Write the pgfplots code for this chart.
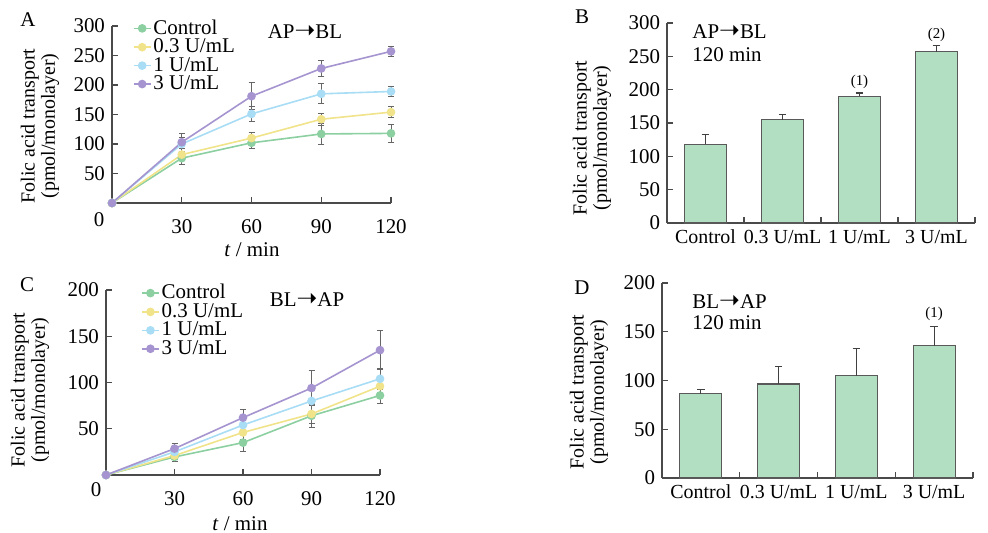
\documentclass[border=0pt]{standalone}
\usepackage{fontspec}
\setmainfont{Liberation Serif}
\newfontfamily\arrfont{DejaVu Sans}
\usepackage{pgfplots}
\pgfplotsset{compat=1.18}

\definecolor{cCtl}{HTML}{8CCFA0}
\definecolor{cLow}{HTML}{F0E38A}
\definecolor{cMid}{HTML}{A8DDF5}
\definecolor{cHigh}{HTML}{A594CF}
\definecolor{barfill}{HTML}{B2DEC2}
\definecolor{axgray}{HTML}{4A4A4A}

\newcommand{\fs}[1]{\fontsize{#1}{#1}\selectfont}
\newcommand{\arr}{{\arrfont\fontsize{12.5}{12}\selectfont ➝}}

\pgfplotsset{
  panel/.style={
    scale only axis, clip=false,
    axis x line*=bottom, axis y line*=left,
    axis line style={axgray, line width=0.6bp},
    tick style={axgray, line width=0.6bp},
    tick align=inside, major tick length=3bp,
    tick label style={font=\fs{10.5}},
    /pgf/number format/assume math mode=true,
  },
  linepanel/.style={
    panel, xmin=0, xmax=120, xtick={30,60,90,120}, ymin=0,
    xticklabel style={yshift=-5bp},
    legend cell align=left,
    legend style={draw=none, fill=none, anchor=north west, font=\fs{10.5},
      row sep=-1.2bp, nodes={inner sep=1bp}},
    legend image code/.code={\draw[##1, mark repeat=2, mark phase=2]
      plot coordinates {(0bp,0bp) (4.25bp,0bp) (8.5bp,0bp)};},
  },
  ser/.style={color=#1, mark=*, mark size=1.75bp, line width=0.8bp,
    mark options={fill=#1, draw=#1},
    error bars/.cd, y dir=both, y explicit,
    error bar style={black!60, line width=0.4bp},
    error mark options={rotate=90, black!60, mark size=1.5bp, line width=0.4bp}},
  barpanel/.style={
    panel, xmin=-0.5, xmax=3.5, xtick={0,1,2,3}, ymin=0,
    xticklabels={Control,0.3 U/mL,1 U/mL,3 U/mL},
    xticklabel style={font=\fs{10}},
    major x tick style={draw=none},
    minor xtick={0.5,1.5,2.5,3.5}, minor tick length=3bp,
  },
  bars/.style={ybar, bar width=21bp, fill=barfill, draw=black!65, line width=0.6bp,
    error bars/.cd, y dir=plus, y explicit,
    error bar style={black!75, line width=0.6bp},
    error mark options={rotate=90, black!75, mark size=1.9bp, line width=0.6bp}},
}

\begin{document}
\begin{tikzpicture}[x=0.5bp, y=-0.5bp]
\useasboundingbox (0,0) rectangle (988,533);
\coordinate (pA) at (112,203);
\coordinate (pB) at (667,223);
\coordinate (pC) at (106,475);
\coordinate (pD) at (662,478);

% ---- A: AP -> BL time course
\begin{axis}[linepanel, at={(pA)}, anchor=south west,
  width=139.5bp, height=88.5bp, ymax=300, ytick={50,100,...,300},
  legend style={at={(0.052,1.072)}}]
\addplot[ser=cCtl] coordinates {(0,0) +- (0,0) (30,76) +- (0,10) (60,102) +- (0,10) (90,117) +- (0,18) (120,118) +- (0,15)};
\addplot[ser=cLow] coordinates {(0,0) +- (0,0) (30,82) +- (0,10) (60,110) +- (0,10) (90,142) +- (0,10) (120,154) +- (0,9)};
\addplot[ser=cMid] coordinates {(0,0) +- (0,0) (30,100) +- (0,12) (60,151) +- (0,12) (90,185) +- (0,17) (120,189) +- (0,9)};
\addplot[ser=cHigh] coordinates {(0,0) +- (0,0) (30,103) +- (0,15) (60,181) +- (0,23) (90,228) +- (0,14) (120,257) +- (0,8)};
\legend{Control, 0.3 U/mL, 1 U/mL, 3 U/mL}
\end{axis}

% ---- B: AP -> BL at 120 min
\begin{axis}[barpanel, at={(pB)}, anchor=south west,
  width=154bp, height=100bp, ymax=300, ytick={0,50,...,300}]
\addplot[bars] coordinates {(0,118) +- (0,15) (1,155) +- (0,8) (2,190) +- (0,5) (3,257) +- (0,9)};
\node[font=\fs{7.5}, anchor=south, inner sep=0pt] at (axis cs:2,201) {(1)};
\node[font=\fs{7.5}, anchor=south, inner sep=0pt] at (axis cs:3,272) {(2)};
\end{axis}

% ---- C: BL -> AP time course
\begin{axis}[linepanel, at={(pC)}, anchor=south west,
  width=137bp, height=92.5bp, ymax=200, ytick={50,100,...,200},
  legend style={at={(0.105,1.065)}}]
\addplot[ser=cCtl] coordinates {(0,0) +- (0,0) (30,19.5) +- (0,5) (60,35) +- (0,10) (90,64) +- (0,13) (120,86) +- (0,9)};
\addplot[ser=cLow] coordinates {(0,0) +- (0,0) (30,21) +- (0,4) (60,46) +- (0,8) (90,66) +- (0,10) (120,96) +- (0,10)};
\addplot[ser=cMid] coordinates {(0,0) +- (0,0) (30,25) +- (0,5) (60,54) +- (0,10) (90,80) +- (0,12) (120,104) +- (0,11)};
\addplot[ser=cHigh] coordinates {(0,0) +- (0,0) (30,28.5) +- (0,6) (60,62) +- (0,9) (90,94) +- (0,19) (120,135) +- (0,21)};
\legend{Control, 0.3 U/mL, 1 U/mL, 3 U/mL}
\end{axis}

% ---- D: BL -> AP at 120 min
\begin{axis}[barpanel, at={(pD)}, anchor=south west,
  width=155.5bp, height=97.5bp, ymax=200, ytick={0,50,...,200}]
\addplot[bars] coordinates {(0,86.5) +- (0,4) (1,96.5) +- (0,18) (2,105) +- (0,28) (3,135.5) +- (0,20)};
\node[font=\fs{7.5}, anchor=south, inner sep=0pt] at (axis cs:3,161) {(1)};
\end{axis}

% ---- panel letters, labels and notes
\begin{scope}[every node/.style={font=\fs{10.5}}]
\node at (28,20) {A};
\node at (582,17) {B};
\node at (27,285) {C};
\node at (582,288) {D};
\node at (99,220) {0};
\node at (96,490) {0};
\node at (305,32) {AP\arr BL};
\node at (307,300) {BL\arr AP};
\node[anchor=west, inner sep=0pt] at (692,32) {AP\arr BL};
\node[anchor=west, inner sep=0pt] at (692,55) {120 min};
\node[anchor=west, inner sep=0pt] at (692,302) {BL\arr AP};
\node[anchor=west, inner sep=0pt] at (692,323) {120 min};
\node at (252,250) {\textit{t} / min};
\node at (240,524) {\textit{t} / min};
\end{scope}
\begin{scope}[every node/.style={font=\fontsize{10}{9}\selectfont, rotate=90, align=center}]
\node at (40,126) {Folic acid transport\\(pmol/monolayer)};
\node at (592,138) {Folic acid transport\\(pmol/monolayer)};
\node at (30,390) {Folic acid transport\\(pmol/monolayer)};
\node at (589,392) {Folic acid transport\\(pmol/monolayer)};
\end{scope}
\end{tikzpicture}
\end{document}
